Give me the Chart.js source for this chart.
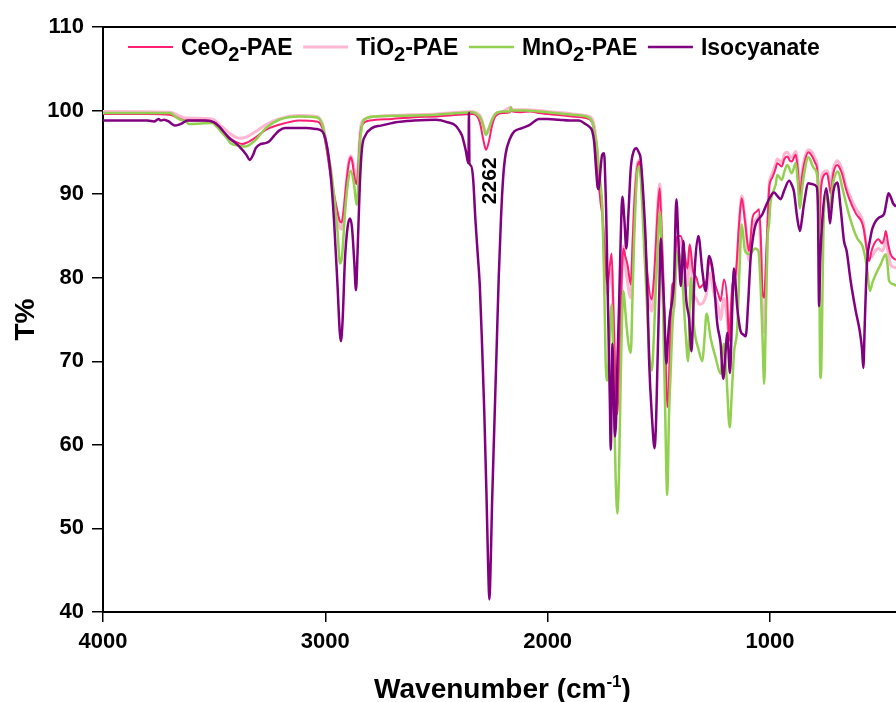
<!DOCTYPE html>
<html>
<head>
<meta charset="utf-8">
<title>FTIR</title>
<script src="https://cdn.jsdelivr.net/npm/chart.js@4"></script>
<style>
  html, body { margin: 0; padding: 0; background: #fff; }
  canvas { display: block; }
</style>
</head>
<body>
<canvas id="ftirChart" width="896" height="702"></canvas>
<script>
// series names and colours
var seriesNames = ['CeO2-PAE', 'TiO2-PAE', 'MnO2-PAE', 'Isocyanate'];
var seriesColors = ['#ff1f72', '#ffb6d2', '#92d050', '#800080'];

// axis ticks
var xTicks = [4000, 3000, 2000, 1000];
var yTicks = [40, 50, 60, 70, 80, 90, 100, 110];

// labelled band
var peakLabel = '2262';
var peakWn = 2262;
var peakLabelT = 91.6;

// CeO2-PAE (wavenumber, T%)
var ceWn = [4000, 3800, 3700, 3660, 3628, 3560, 3510, 3480, 3463, 3440, 3418, 3390, 3373, 3350, 3313, 3268, 3208, 3150, 3118, 3043, 3013, 2995, 2980, 2965, 2950, 2935, 2927, 2918, 2905, 2895, 2886, 2878, 2870, 2860, 2852, 2846, 2836, 2800, 2700, 2600, 2500, 2400, 2340, 2320, 2305, 2290, 2277, 2265, 2250, 2235, 2200, 2170, 2166, 2160, 2120, 2080, 2039, 2000, 1964, 1890, 1829, 1800, 1784, 1775, 1762, 1754, 1746, 1738, 1731, 1722, 1712, 1705, 1698, 1690, 1686, 1680, 1671, 1659, 1650, 1641, 1626, 1618, 1611, 1600, 1589, 1580, 1571, 1561, 1551, 1532, 1523, 1514, 1505, 1496, 1488, 1481, 1472, 1462, 1454, 1447, 1439, 1431, 1421, 1412, 1401, 1386, 1371, 1361, 1346, 1331, 1316, 1301, 1286, 1271, 1251, 1232, 1222, 1207, 1192, 1184, 1176, 1169, 1154, 1139, 1127, 1112, 1094, 1079, 1061, 1049, 1040, 1034, 1026, 1018, 1011, 1004, 997, 989, 974, 967, 947, 935, 922, 910, 902, 884, 875, 865, 856, 847, 827, 810, 796, 786, 779, 772, 762, 743, 735, 727, 715, 697, 684, 674, 660, 644, 614, 588, 578, 570, 554, 543, 532, 512, 495, 485, 479, 468, 457, 433];
var ceT = [99.6, 99.6, 99.5, 99.1, 98.8, 98.8, 98.7, 98.2, 97.6, 97.0, 96.5, 96.1, 96.0, 96.2, 96.8, 97.7, 98.3, 98.7, 98.8, 98.7, 97.9, 95.5, 93.0, 90.5, 88.5, 86.8, 86.6, 88.0, 91.5, 93.6, 94.4, 93.8, 92.2, 91.2, 93.0, 96.0, 98.2, 98.8, 99.0, 99.2, 99.3, 99.5, 99.6, 99.4, 98.6, 96.6, 95.3, 96.2, 98.2, 99.3, 99.7, 99.8, 100.2, 99.9, 99.8, 99.9, 99.7, 99.6, 99.5, 99.3, 99.1, 98.6, 96.3, 93.0, 89.0, 87.5, 84.4, 80.5, 79.2, 81.0, 82.9, 77.0, 70.4, 64.0, 63.7, 68.0, 76.4, 83.5, 82.5, 81.6, 79.2, 84.0, 88.3, 92.5, 93.9, 92.0, 88.3, 84.0, 80.4, 77.4, 79.5, 83.5, 88.0, 90.7, 86.0, 81.1, 73.0, 64.5, 67.7, 74.8, 79.2, 79.5, 84.7, 85.0, 85.0, 83.2, 81.1, 84.0, 80.8, 80.0, 78.8, 79.2, 79.6, 82.0, 79.6, 78.0, 77.2, 79.8, 77.2, 72.4, 76.0, 79.2, 80.4, 86.4, 89.5, 86.7, 83.2, 87.1, 87.9, 88.2, 84.0, 78.4, 77.6, 82.0, 86.4, 90.6, 91.6, 92.0, 93.1, 93.7, 93.3, 94.2, 94.5, 94.0, 93.9, 94.7, 93.0, 89.5, 92.0, 93.5, 95.0, 94.5, 93.7, 92.5, 85.0, 90.0, 92.0, 92.5, 91.4, 90.1, 92.5, 93.5, 93.0, 92.3, 90.8, 89.5, 87.7, 86.7, 85.8, 84.4, 82.0, 83.2, 84.0, 84.6, 84.1, 84.8, 85.6, 84.0, 82.8, 82.1];

// TiO2-PAE
var tiWn = [4000, 3700, 3660, 3628, 3510, 3463, 3426, 3388, 3360, 3313, 3268, 3208, 3118, 3043, 3013, 2995, 2980, 2965, 2950, 2935, 2927, 2918, 2905, 2895, 2886, 2878, 2870, 2860, 2852, 2846, 2836, 2800, 2700, 2600, 2500, 2400, 2340, 2320, 2300, 2290, 2277, 2265, 2250, 2235, 2200, 2166, 2160, 2100, 2039, 2000, 1964, 1890, 1829, 1800, 1784, 1775, 1762, 1754, 1746, 1738, 1731, 1722, 1712, 1705, 1698, 1690, 1686, 1680, 1671, 1659, 1650, 1641, 1626, 1618, 1611, 1600, 1589, 1580, 1571, 1561, 1551, 1532, 1523, 1514, 1505, 1496, 1488, 1481, 1472, 1462, 1454, 1447, 1439, 1431, 1421, 1412, 1401, 1386, 1371, 1361, 1346, 1331, 1316, 1301, 1286, 1271, 1251, 1232, 1222, 1207, 1192, 1184, 1176, 1169, 1154, 1139, 1127, 1112, 1094, 1079, 1061, 1049, 1040, 1034, 1026, 1018, 1011, 1004, 997, 989, 974, 967, 947, 935, 922, 910, 902, 884, 875, 865, 856, 847, 827, 810, 796, 786, 779, 772, 762, 743, 735, 727, 715, 697, 684, 674, 660, 644, 614, 588, 578, 570, 554, 543, 532, 512, 495, 485, 479, 468, 457, 433];
var tiT = [99.9, 99.8, 99.4, 99.1, 99.0, 98.0, 97.2, 96.7, 96.8, 97.5, 98.3, 99.0, 99.4, 99.3, 98.4, 96.0, 93.0, 90.5, 88.0, 86.0, 85.8, 87.5, 91.5, 93.8, 94.6, 94.0, 93.0, 92.0, 93.5, 96.5, 98.6, 99.2, 99.4, 99.5, 99.6, 99.8, 99.9, 99.7, 99.2, 98.3, 97.3, 97.8, 98.9, 99.6, 99.9, 100.4, 100.1, 100.1, 100.0, 99.9, 99.8, 99.6, 99.4, 99.0, 97.0, 94.0, 90.0, 88.0, 84.0, 79.5, 78.0, 79.5, 81.0, 76.0, 70.0, 65.5, 65.3, 69.0, 77.0, 83.8, 81.5, 79.5, 77.6, 83.0, 88.5, 93.0, 94.1, 92.5, 88.5, 84.0, 79.5, 76.0, 78.0, 83.0, 88.5, 91.2, 86.0, 80.0, 72.0, 66.1, 66.0, 72.0, 77.0, 76.4, 83.5, 84.5, 84.0, 82.5, 79.0, 83.8, 78.5, 77.5, 76.8, 77.0, 78.0, 80.5, 78.0, 76.5, 75.0, 77.5, 75.0, 73.0, 75.0, 78.0, 79.5, 86.0, 89.8, 87.0, 82.0, 86.0, 87.0, 87.5, 82.0, 76.0, 73.5, 79.0, 85.0, 90.8, 92.0, 92.5, 93.6, 94.2, 93.8, 94.8, 95.0, 94.5, 94.4, 95.1, 93.5, 90.0, 92.5, 94.0, 95.3, 95.0, 94.2, 93.0, 86.0, 91.0, 92.5, 92.8, 92.0, 91.0, 93.0, 94.0, 93.5, 92.8, 91.2, 90.0, 88.3, 87.2, 86.3, 84.5, 82.5, 82.5, 83.0, 83.5, 83.2, 83.8, 84.5, 83.0, 81.5, 81.2];

// MnO2-PAE
var mnWn = [4000, 3700, 3660, 3628, 3613, 3508, 3490, 3463, 3440, 3426, 3388, 3358, 3335, 3313, 3268, 3208, 3118, 3043, 3013, 2991, 2975, 2961, 2945, 2934, 2925, 2911, 2900, 2886, 2871, 2859, 2852, 2846, 2836, 2826, 2773, 2600, 2503, 2400, 2340, 2320, 2300, 2290, 2277, 2265, 2250, 2235, 2200, 2170, 2166, 2160, 2100, 2039, 2000, 1964, 1890, 1829, 1800, 1790, 1777, 1769, 1762, 1754, 1746, 1739, 1731, 1722, 1712, 1706, 1701, 1694, 1686, 1678, 1671, 1659, 1652, 1646, 1636, 1626, 1618, 1611, 1596, 1586, 1574, 1565, 1556, 1545, 1532, 1522, 1514, 1504, 1495, 1488, 1481, 1472, 1462, 1454, 1447, 1439, 1431, 1424, 1412, 1394, 1379, 1368, 1356, 1341, 1322, 1304, 1295, 1285, 1267, 1244, 1222, 1207, 1196, 1181, 1172, 1162, 1147, 1137, 1127, 1112, 1091, 1067, 1052, 1042, 1034, 1026, 1018, 1011, 1004, 997, 989, 974, 967, 947, 935, 922, 902, 884, 875, 865, 856, 847, 827, 802, 784, 778, 775, 771, 767, 760, 749, 734, 715, 694, 674, 652, 629, 607, 584, 572, 562, 551, 538, 524, 502, 479, 471, 464, 442, 433];
var mnT = [99.7, 99.7, 99.0, 98.7, 98.4, 98.5, 98.1, 97.3, 96.6, 96.1, 95.8, 95.7, 96.0, 96.5, 97.9, 98.9, 99.3, 99.2, 98.3, 95.3, 93.0, 89.9, 85.5, 81.7, 82.5, 87.9, 91.0, 92.8, 91.2, 88.7, 91.0, 95.3, 98.0, 98.9, 99.3, 99.4, 99.5, 99.7, 99.8, 99.6, 99.0, 98.2, 97.1, 97.8, 98.9, 99.6, 99.9, 99.9, 100.4, 100.0, 100.0, 99.9, 99.8, 99.7, 99.5, 99.3, 98.7, 97.5, 95.5, 93.0, 91.2, 88.3, 80.0, 70.0, 67.7, 72.0, 76.8, 72.0, 64.5, 56.0, 51.8, 58.0, 68.5, 78.4, 76.5, 74.5, 72.0, 71.0, 78.0, 84.4, 92.7, 93.3, 88.3, 83.0, 78.4, 72.0, 68.9, 73.0, 78.4, 84.0, 87.9, 84.0, 76.4, 65.0, 54.0, 63.7, 68.5, 74.0, 77.0, 80.4, 83.2, 79.6, 73.3, 70.0, 80.0, 74.0, 71.5, 70.0, 72.5, 75.7, 72.8, 70.4, 68.5, 72.1, 68.5, 62.1, 66.0, 70.9, 74.0, 81.0, 86.4, 83.2, 82.8, 83.5, 83.2, 79.0, 73.3, 67.3, 76.0, 84.4, 86.5, 89.1, 90.0, 91.2, 92.3, 91.7, 92.7, 93.5, 92.5, 93.7, 91.5, 88.3, 90.5, 92.3, 94.4, 93.1, 91.5, 83.0, 70.0, 68.0, 72.0, 85.0, 90.3, 88.2, 91.5, 92.7, 90.7, 88.3, 86.2, 84.7, 83.8, 82.5, 80.8, 78.4, 79.5, 80.4, 81.6, 82.8, 81.5, 79.6, 79.2, 79.0];

// Isocyanate
var isoWn = [4000, 3900, 3800, 3770, 3750, 3740, 3725, 3705, 3690, 3676, 3660, 3643, 3620, 3580, 3540, 3500, 3478, 3455, 3433, 3403, 3373, 3355, 3340, 3325, 3313, 3291, 3270, 3253, 3230, 3208, 3180, 3148, 3088, 3043, 3013, 2991, 2975, 2960, 2945, 2935, 2930, 2922, 2912, 2900, 2889, 2880, 2870, 2862, 2855, 2845, 2835, 2820, 2790, 2750, 2700, 2683, 2600, 2503, 2450, 2414, 2395, 2385, 2375, 2368, 2360, 2356, 2354, 2352, 2345, 2335, 2325, 2315, 2305, 2295, 2285, 2275, 2268, 2262, 2256, 2250, 2240, 2230, 2220, 2210, 2200, 2189, 2170, 2150, 2115, 2080, 2039, 2000, 1950, 1900, 1859, 1830, 1810, 1800, 1791, 1782, 1775, 1770, 1762, 1755, 1746, 1740, 1737, 1728, 1720, 1716, 1712, 1709, 1704, 1697, 1692, 1686, 1679, 1672, 1664, 1655, 1646, 1636, 1626, 1612, 1601, 1590, 1582, 1570, 1559, 1550, 1544, 1530, 1519, 1512, 1507, 1498, 1491, 1484, 1476, 1466, 1458, 1449, 1440, 1431, 1421, 1411, 1401, 1389, 1382, 1376, 1364, 1353, 1345, 1338, 1322, 1304, 1289, 1274, 1255, 1237, 1222, 1210, 1200, 1192, 1180, 1170, 1162, 1147, 1132, 1120, 1109, 1098, 1087, 1075, 1064, 1034, 1015, 1004, 982, 967, 952, 935, 914, 900, 892, 877, 865, 856, 847, 827, 809, 790, 784, 779, 774, 764, 747, 738, 730, 722, 715, 697, 682, 667, 655, 637, 614, 596, 586, 580, 574, 568, 562, 550, 539, 509, 487, 476, 467, 456, 446, 433];
var isoT = [98.8, 98.8, 98.8, 98.7, 99.0, 98.8, 98.9, 98.7, 98.4, 98.2, 98.3, 98.5, 98.8, 98.8, 98.8, 98.6, 98.1, 97.4, 96.7, 96.1, 95.3, 94.7, 94.1, 94.7, 95.5, 96.0, 96.1, 96.3, 97.0, 97.6, 97.9, 97.9, 97.9, 97.8, 97.5, 95.5, 92.0, 86.5, 79.0, 73.5, 72.4, 75.0, 82.0, 86.0, 87.1, 86.0, 82.0, 78.5, 83.0, 91.0, 95.5, 97.0, 97.9, 98.2, 98.5, 98.6, 98.8, 98.9, 98.6, 98.2, 97.5, 97.0, 96.0, 95.2, 94.0, 93.7, 99.7, 93.8, 93.4, 91.8, 87.0, 83.0, 79.0, 72.0, 64.0, 54.0, 46.0, 41.5, 46.0, 53.0, 62.0, 71.0, 80.0, 87.0, 92.0, 94.8, 96.6, 97.5, 97.9, 98.3, 99.0, 99.0, 98.9, 98.8, 98.8, 98.4, 98.0, 97.6, 96.3, 93.0, 90.8, 90.6, 93.0, 94.7, 94.9, 91.0, 88.3, 76.0, 65.0, 59.4, 66.0, 72.1, 68.0, 61.0, 63.0, 70.0, 76.4, 84.0, 89.7, 87.0, 83.5, 88.0, 93.1, 95.2, 95.5, 95.0, 94.3, 90.0, 84.4, 77.0, 70.4, 63.0, 59.6, 63.0, 68.5, 78.0, 84.7, 81.0, 76.4, 69.7, 73.0, 75.7, 77.2, 80.0, 89.4, 84.0, 79.0, 84.4, 80.0, 77.2, 75.2, 71.2, 76.0, 81.1, 85.0, 80.8, 78.4, 82.6, 80.4, 74.5, 72.1, 67.9, 71.0, 73.4, 68.6, 76.0, 81.1, 76.4, 73.6, 73.2, 73.0, 77.0, 82.3, 85.0, 86.4, 87.6, 88.8, 89.4, 90.2, 89.8, 89.4, 90.5, 91.6, 91.0, 90.3, 87.1, 85.6, 87.0, 88.8, 91.3, 91.2, 90.9, 88.0, 76.6, 82.0, 87.1, 90.7, 89.0, 86.5, 88.5, 90.3, 91.4, 88.3, 84.4, 83.2, 79.6, 76.0, 73.6, 71.5, 69.2, 74.0, 79.0, 82.3, 84.5, 85.9, 87.2, 87.6, 89.0, 90.1, 89.6, 88.9, 88.5];

var wnLists = [ceWn, tiWn, mnWn, isoWn];
var tLists = [ceT, tiT, mnT, isoT];
var lineWidths = [2, 3, 2.5, 2.5];
var drawOrder = [2, 3, 1, 0]; // purple on top, pink underneath

function toPoints(wn, t) {
  return wn.map(function (w, i) { return { x: w, y: t[i] }; });
}

var datasets = seriesNames.map(function (name, i) {
  return {
    label: name,
    data: toPoints(wnLists[i], tLists[i]),
    borderColor: seriesColors[i],
    backgroundColor: seriesColors[i],
    borderWidth: lineWidths[i],
    pointRadius: 0,
    cubicInterpolationMode: 'monotone',
    fill: false,
    order: drawOrder[i]
  };
});

var FONT = '"Liberation Sans", Arial, sans-serif';

// writes text with any digit as a lowered subscript, returns end x
function drawSubText(ctx, text, x, y, size, subSize, shift) {
  var parts = text.split(/(\d)/);
  parts.forEach(function (p) {
    if (!p) return;
    var isSub = /^\d$/.test(p);
    ctx.font = 'bold ' + (isSub ? subSize : size) + 'px ' + FONT;
    ctx.fillText(p, x, isSub ? y + shift : y);
    x += ctx.measureText(p).width;
  });
  return x;
}

var extras = {
  id: 'extras',
  afterDraw: function (chart) {
    var ctx = chart.ctx;
    var area = chart.chartArea;
    var xs = chart.scales.x;
    var ys = chart.scales.y;
    ctx.save();

    // top frame line
    ctx.strokeStyle = '#000';
    ctx.lineWidth = 2;
    ctx.beginPath();
    ctx.moveTo(area.left, area.top);
    ctx.lineTo(area.right, area.top);
    ctx.stroke();

    // legend
    ctx.fillStyle = '#000';
    ctx.textBaseline = 'alphabetic';
    ctx.textAlign = 'left';
    var lx = 128;
    var lineY = 47;
    chart.data.datasets.forEach(function (ds) {
      ctx.strokeStyle = ds.borderColor;
      ctx.lineWidth = ds.borderWidth;
      ctx.beginPath();
      ctx.moveTo(lx, lineY);
      ctx.lineTo(lx + 45, lineY);
      ctx.stroke();
      var end = drawSubText(ctx, ds.label, lx + 53, 55, 23, 20, 6);
      lx = end + 10.5;
    });

    // band label
    ctx.save();
    ctx.translate(xs.getPixelForValue(peakWn), ys.getPixelForValue(peakLabelT));
    ctx.rotate(-Math.PI / 2);
    ctx.font = 'bold 21px ' + FONT;
    ctx.textAlign = 'center';
    ctx.textBaseline = 'middle';
    ctx.fillText(peakLabel, 0, 1);
    ctx.restore();

    // x axis title with superscript
    var t1 = 'Wavenumber (cm', t2 = '-1', t3 = ')';
    ctx.font = 'bold 28px ' + FONT;
    var w1 = ctx.measureText(t1).width, w3 = ctx.measureText(t3).width;
    ctx.font = 'bold 17px ' + FONT;
    var w2 = ctx.measureText(t2).width;
    var tx = (area.left + area.right) / 2 + 3 - (w1 + w2 + w3) / 2;
    var ty = 698;
    ctx.font = 'bold 28px ' + FONT;
    ctx.fillText(t1, tx, ty);
    ctx.font = 'bold 17px ' + FONT;
    ctx.fillText(t2, tx + w1, ty - 11);
    ctx.font = 'bold 28px ' + FONT;
    ctx.fillText(t3, tx + w1 + w2, ty);
    ctx.restore();
  }
};

var ctx = document.getElementById('ftirChart').getContext('2d');
var ftirChart = new Chart(ctx, {
  type: 'line',
  data: { datasets: datasets },
  options: {
    responsive: false,
    animation: false,
    devicePixelRatio: 1,
    layout: { padding: { top: 27, left: 0, right: 0, bottom: 0 } },
    plugins: { legend: { display: false }, tooltip: { enabled: false } },
    scales: {
      x: {
        type: 'linear',
        reverse: true,
        min: 433,
        max: 4000,
        afterFit: function (s) { s.height = 90; },
        afterBuildTicks: function (s) { s.ticks = xTicks.map(function (v) { return { value: v }; }); },
        ticks: {
          color: '#000',
          font: { family: FONT, size: 22, weight: 'bold' },
          padding: 7,
          maxRotation: 0,
          callback: function (v) { return String(v); }
        },
        grid: { drawOnChartArea: false, drawTicks: true, tickLength: 10, color: '#000', lineWidth: 1.5 },
        border: { display: true, color: '#000', width: 2 }
      },
      y: {
        min: 40,
        max: 110,
        afterFit: function (s) { s.width = 103; },
        afterBuildTicks: function (s) { s.ticks = yTicks.map(function (v) { return { value: v }; }); },
        ticks: {
          color: '#000',
          font: { family: FONT, size: 22, weight: 'bold' },
          padding: 8,
          callback: function (v) { return String(v); }
        },
        grid: { drawOnChartArea: false, drawTicks: true, tickLength: 11, color: '#000', lineWidth: 1.5 },
        border: { display: true, color: '#000', width: 2 },
        title: {
          display: true,
          text: 'T%',
          color: '#000',
          font: { family: FONT, size: 28, weight: 'bold' },
          padding: { top: 9, bottom: 0 }
        }
      }
    }
  },
  plugins: [extras]
});
</script>
</body>
</html>
